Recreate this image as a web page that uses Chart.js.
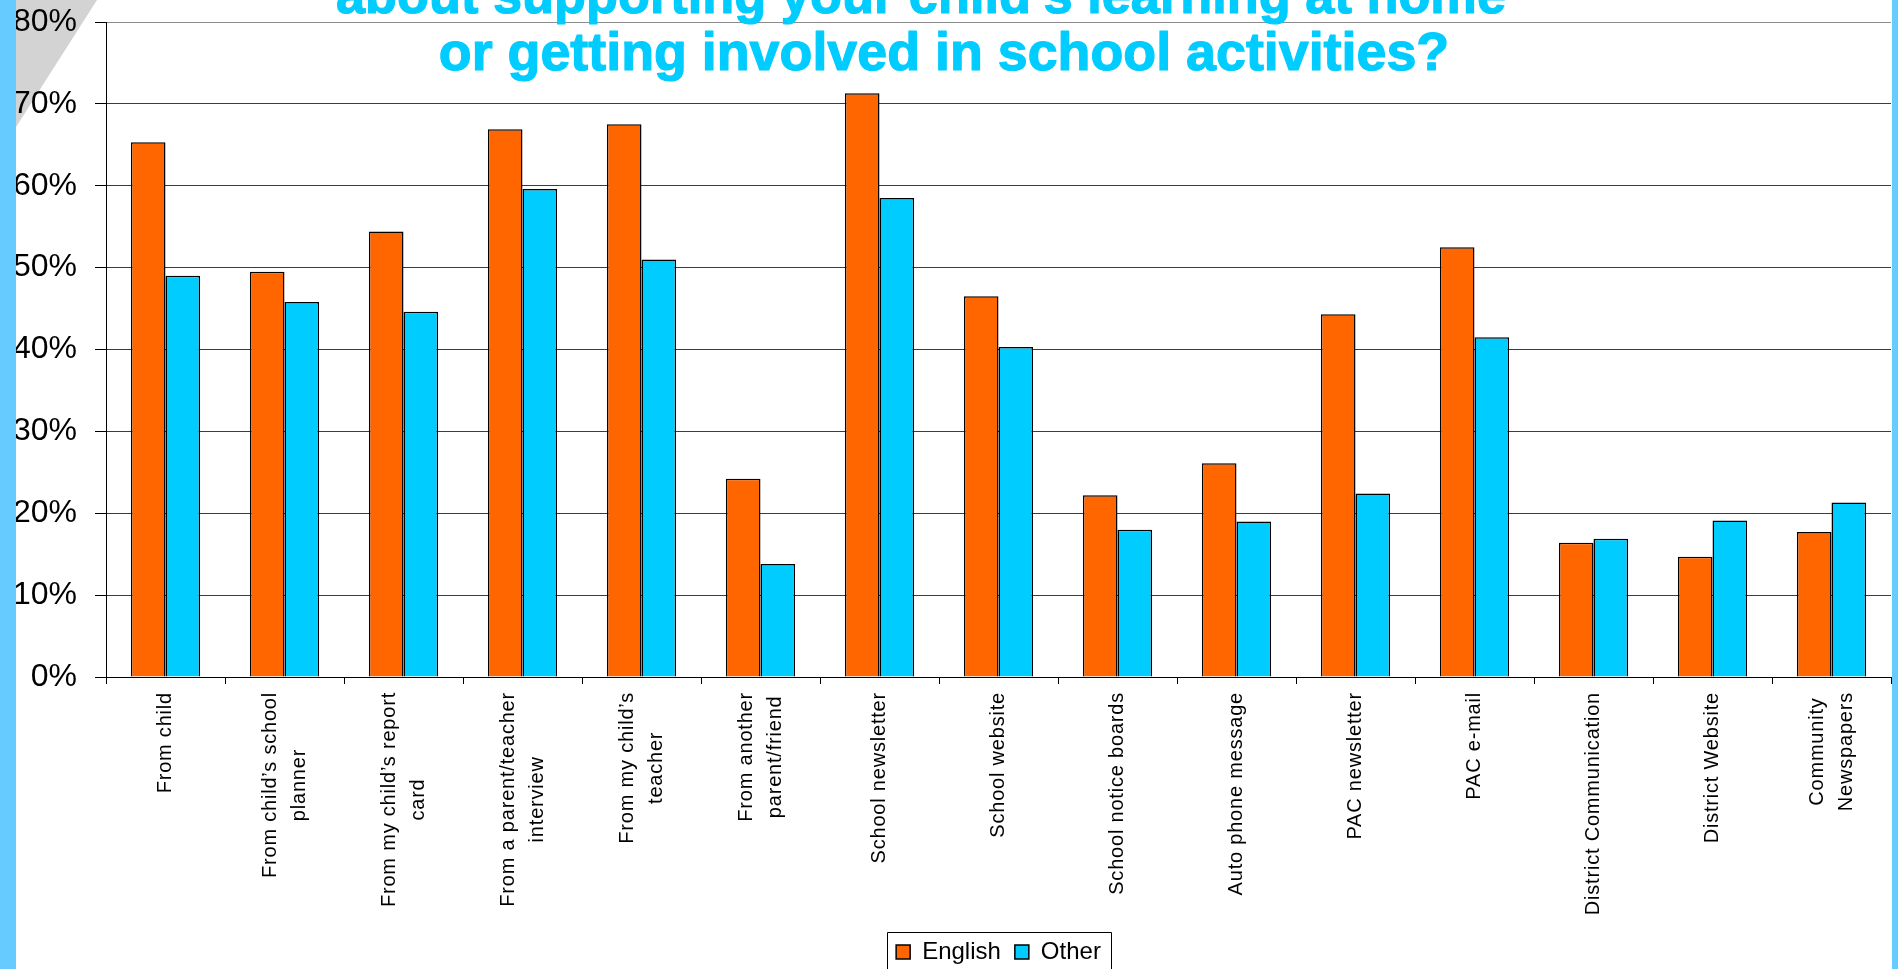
<!DOCTYPE html>
<html>
<head>
<meta charset="utf-8">
<title>Getting information about your child's learning</title>
<script src="https://cdn.jsdelivr.net/npm/chart.js@4.4.1/dist/chart.umd.min.js"></script>
<style>
    html, body { margin: 0; padding: 0; background: #ffffff; overflow: hidden; }
    canvas { display: block; }
</style>
</head>
<body>
<canvas id="graficoFontes" width="1898" height="969"></canvas>
<script>
// ============================================
// DATA
// ============================================
const categorias = [
    'From child',
    ['From child\u2019s school', 'planner'],
    ['From my child\u2019s report', 'card'],
    ['From a parent/teacher', 'interview'],
    ['From my child\u2019s', 'teacher'],
    ['From another', 'parent/friend'],
    'School newsletter',
    'School website',
    'School notice boards',
    'Auto phone message',
    'PAC newsletter',
    'PAC e-mail',
    'District Communication',
    'District Website',
    ['Community', 'Newspapers']
];

const valoresEnglish = [65.3, 49.5, 54.4, 66.9, 67.5, 24.2, 71.3, 46.5, 22.2, 26.1, 44.3, 52.5, 16.4, 14.7, 17.7];
const valoresOther   = [49.0, 45.8, 44.6, 59.6, 51.0, 13.8, 58.5, 40.3, 18.0, 19.0, 22.4, 41.5, 16.9, 19.1, 21.3];

const ticksY = [0, 10, 20, 30, 40, 50, 60, 70, 80];

const titulo = [
    'about supporting your child\u2019s learning at home',
    'or getting involved in school activities?'
];

// ============================================
// STYLE
// ============================================
const FONTE = "'Liberation Sans', Arial, Helvetica, sans-serif";
const COR_LARANJA = '#ff6600';
const COR_AZUL = '#00ccff';
const COR_FAIXA = '#66ccff';
const ESPACO_LETRAS = '0.8px';

Chart.defaults.font.family = FONTE;
Chart.defaults.color = '#000000';

// Category axis whose rotated labels are letter-spaced and whose lines are
// centred on each other (Chart.js right-aligns rotated lines by default)
class SpacedCategoryScale extends Chart.CategoryScale {
    _computeLabelItems(chartArea) {
        const items = super._computeLabelItems(chartArea);
        const ctx = this.ctx;
        ctx.save();
        ctx.letterSpacing = ESPACO_LETRAS;
        items.forEach(item => {
            const linhas = Array.isArray(item.label) ? item.label : [item.label];
            ctx.font = item.font.string;
            const maior = Math.max(...linhas.map(l => ctx.measureText(l).width));
            const [x, y] = item.options.translation;
            item.options.translation = [
                x - (linhas.length - 1) * item.font.lineHeight / 2,
                y + maior / 2
            ];
            item.options.textAlign = 'center';
        });
        ctx.restore();
        return items;
    }

    drawLabels(chartArea) {
        this.ctx.save();
        this.ctx.letterSpacing = ESPACO_LETRAS;
        super.drawLabels(chartArea);
        this.ctx.restore();
    }
}
SpacedCategoryScale.id = 'spacedCategory';
SpacedCategoryScale.defaults = Chart.CategoryScale.defaults;
Chart.register(SpacedCategoryScale);

// Slide background: blue side bars and the grey corner wedge
const fundoSlide = {
    id: 'fundoSlide',
    beforeDraw(chart) {
        const { ctx, width, height } = chart;
        ctx.save();
        ctx.fillStyle = '#ffffff';
        ctx.fillRect(0, 0, width, height);
        ctx.fillStyle = '#d3d3d3';
        ctx.beginPath();
        ctx.moveTo(16, 0);
        ctx.lineTo(97, 0);
        ctx.lineTo(16, 127);
        ctx.closePath();
        ctx.fill();
        ctx.fillStyle = COR_FAIXA;
        ctx.fillRect(0, 0, 16, height);
        ctx.fillRect(width - 6, 0, 6, height);
        ctx.restore();
    }
};

// Title text sitting over the top of the plot, plus the frame round the legend
const tituloELegenda = {
    id: 'tituloELegenda',
    afterDraw(chart) {
        const ctx = chart.ctx;
        ctx.save();

        ctx.font = `bold 50px ${FONTE}`;
        const tamanho = 50 * 1010 / ctx.measureText(titulo[1]).width;
        ctx.font = `bold ${tamanho.toFixed(1)}px ${FONTE}`;
        ctx.fillStyle = COR_AZUL;
        ctx.strokeStyle = COR_AZUL;
        ctx.lineWidth = 1.2;
        ctx.lineJoin = 'round';
        ctx.textAlign = 'center';
        ctx.textBaseline = 'alphabetic';
        ctx.fillText(titulo[0], 921, 13, 1170);
        ctx.strokeText(titulo[0], 921, 13, 1170);
        ctx.fillText(titulo[1], 944, 70);
        ctx.strokeText(titulo[1], 944, 70);

        const caixas = chart.legend.legendHitBoxes;
        if (caixas && caixas.length) {
            const ultima = caixas[caixas.length - 1];
            const esquerda = caixas[0].left - 9;
            const direita = ultima.left + ultima.width + 10;
            const topo = caixas[0].top - 8;
            ctx.strokeStyle = '#000000';
            ctx.lineWidth = 1;
            ctx.strokeRect(Math.round(esquerda) + 0.5, Math.round(topo) + 0.5,
                Math.round(direita - esquerda), chart.height - topo + 10);
        }
        ctx.restore();
    }
};

const ctxGrafico = document.getElementById('graficoFontes').getContext('2d');
const grafico = new Chart(ctxGrafico, {
    type: 'bar',
    data: {
        labels: categorias,
        datasets: [
            {
                label: 'English',
                data: valoresEnglish,
                backgroundColor: COR_LARANJA,
                borderColor: '#000000',
                borderWidth: 1.5,
                borderSkipped: 'bottom',
                categoryPercentage: 0.582,
                barPercentage: 1.0
            },
            {
                label: 'Other',
                data: valoresOther,
                backgroundColor: COR_AZUL,
                borderColor: '#000000',
                borderWidth: 1.5,
                borderSkipped: 'bottom',
                categoryPercentage: 0.582,
                barPercentage: 1.0
            }
        ]
    },
    options: {
        responsive: false,
        animation: false,
        devicePixelRatio: 1,
        layout: {
            padding: { left: 16, right: 7, top: 22, bottom: -5 }
        },
        plugins: {
            title: { display: false },
            tooltip: { enabled: false },
            legend: {
                position: 'bottom',
                fullSize: false,
                labels: {
                    color: '#000000',
                    font: { size: 24, family: FONTE },
                    boxWidth: 14,
                    boxHeight: 14,
                    padding: 14
                }
            }
        },
        scales: {
            x: {
                type: 'spacedCategory',
                offset: true,
                afterFit: (scale) => { scale.height = 249; },
                grid: {
                    offset: true,
                    drawOnChartArea: false,
                    tickLength: 7,
                    tickColor: '#000000',
                    color: '#000000'
                },
                border: { color: '#000000', width: 1 },
                ticks: {
                    autoSkip: false,
                    minRotation: 90,
                    maxRotation: 90,
                    padding: 8,
                    color: '#000000',
                    font: { size: 20, family: FONTE, lineHeight: 1.45 }
                }
            },
            y: {
                min: ticksY[0],
                max: ticksY[ticksY.length - 1],
                afterFit: (scale) => {
                    // fixed gutter; the top label may overhang the padding
                    scale.width = 90;
                    scale.paddingTop = 0;
                    scale.paddingBottom = 0;
                },
                afterBuildTicks: (scale) => {
                    scale.ticks = ticksY.map(v => ({ value: v }));
                },
                grid: {
                    color: (c) => c.tick && c.tick.value === ticksY[ticksY.length - 1] ? '#8c8c8c' : '#3c3c3c',
                    tickColor: '#000000',
                    tickLength: 11,
                    lineWidth: 1
                },
                border: { color: '#000000', width: 1 },
                ticks: {
                    padding: 18,
                    color: '#000000',
                    font: { size: 32, family: FONTE },
                    callback: (value) => value + '%'
                }
            }
        }
    },
    plugins: [fundoSlide, tituloELegenda]
});
</script>
</body>
</html>
